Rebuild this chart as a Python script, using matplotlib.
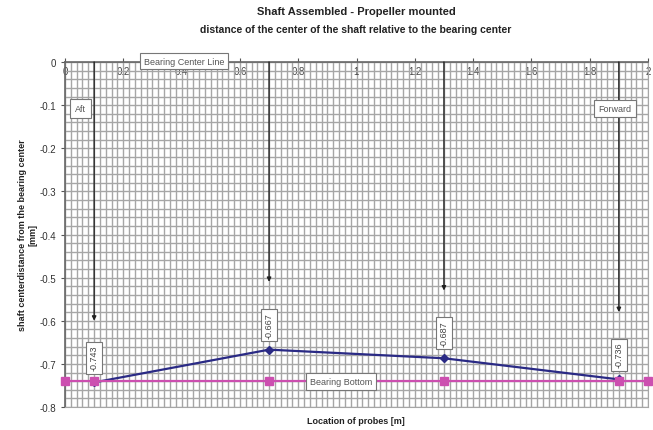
import matplotlib
matplotlib.use("Agg")
import matplotlib.pyplot as plt
import numpy as np

# Data
probe_x = [0.1, 0.7, 1.3, 1.9]
shaft_y = [-0.743, -0.667, -0.687, -0.736]
shaft_labels = ["-0.743", "-0.667", "-0.687", "-0.736"]
bottom_x = [0.0, 0.1, 0.7, 1.3, 1.9, 2.0]
bottom_y = [-0.74, -0.74, -0.74, -0.74, -0.74, -0.74]
arrow_end_y = [-0.6, -0.51, -0.53, -0.58]
x_ticks = [0, 0.2, 0.4, 0.6, 0.8, 1.0, 1.2, 1.4, 1.6, 1.8, 2.0]
x_tick_labels = ["0", "0.2", "0.4", "0.6", "0.8", "1", "1.2", "1.4", "1.6", "1.8", "2"]
y_ticks = [0, -0.1, -0.2, -0.3, -0.4, -0.5, -0.6, -0.7, -0.8]
y_tick_labels = ["0", "-0.1", "-0.2", "-0.3", "-0.4", "-0.5", "-0.6", "-0.7", "-0.8"]

plt.rcParams['font.family'] = ['Liberation Sans', 'DejaVu Sans']

fig = plt.figure(figsize=(6.53, 4.31), dpi=100)
ax = fig.add_axes([65/653, 1-408/431, (648-65)/653, (408-63)/431])

ax.set_xlim(0, 2)
ax.set_ylim(-0.8, 0)

# grid
ax.set_xticks(np.arange(0, 2.0001, 0.02), minor=True)
ax.set_yticks(np.arange(-0.8, 0.0001, 0.02), minor=True)
ax.grid(which='minor', color='#a6a6a6', linewidth=1.0)
ax.grid(which='major', color='#a6a6a6', linewidth=1.0)
ax.tick_params(which='minor', length=0)

ax.set_xticks(x_ticks)
ax.set_xticklabels(x_tick_labels)
ax.set_yticks(y_ticks)
ax.set_yticklabels(y_tick_labels)
ax.xaxis.set_ticks_position('top')
ax.tick_params(axis='x', which='major', top=True, labeltop=True, bottom=False,
               labelbottom=False, direction='out', length=3, pad=-13,
               labelsize=7, labelcolor='#444444', color='#555555')
ax.tick_params(axis='y', which='major', direction='out', length=3, labelsize=7,
               labelcolor='#333333', color='#555555')

for s in ['left', 'top']:
    ax.spines[s].set_color('#666666')
    ax.spines[s].set_linewidth(1.2)
for s in ['right', 'bottom']:
    ax.spines[s].set_color('#a6a6a6')

# arrows
for x, ye in zip(probe_x, arrow_end_y):
    ax.annotate('', xy=(x, ye), xytext=(x, 0),
                arrowprops=dict(arrowstyle='-|>', color='#222222', lw=1.0,
                                mutation_scale=6, shrinkA=0, shrinkB=0))

# lines
ax.plot(probe_x, shaft_y, color='#2a2a85', lw=1.6, marker='D', markersize=4.5,
        zorder=4, clip_on=False)
ax.plot(bottom_x, bottom_y, color='#cc4fb0', lw=1.6, marker='s', markersize=6,
        zorder=5, clip_on=False)

box = dict(boxstyle='square,pad=0.35', facecolor='white', edgecolor='#777777', lw=0.8)

# data labels
for x, y, lab in zip(probe_x, shaft_y, shaft_labels):
    ax.annotate(lab, xy=(x, y), xytext=(0, 12), textcoords='offset pixels',
                rotation=90, ha='center', va='bottom', fontsize=6.5,
                color='#444444', bbox=box, zorder=6)

# text boxes
ax.text(0.27, 0.002, 'Bearing Center Line', fontsize=6.5, color='#555555',
        ha='left', va='center', bbox=dict(boxstyle='square,pad=0.4', facecolor='white',
        edgecolor='#777777', lw=0.8), clip_on=False, zorder=7)
ax.text(0.035, -0.107, 'Aft', fontsize=6.5, color='#555555', ha='left', va='center',
        bbox=dict(boxstyle='square,pad=0.55', facecolor='white', edgecolor='#777777', lw=0.8),
        zorder=7)
ax.text(1.83, -0.107, 'Forward', fontsize=6.5, color='#555555', ha='left', va='center',
        bbox=dict(boxstyle='square,pad=0.45', facecolor='white', edgecolor='#777777', lw=0.8),
        zorder=7)
ax.text(0.84, -0.74, 'Bearing Bottom', fontsize=6.5, color='#555555', ha='left', va='center',
        bbox=dict(boxstyle='square,pad=0.45', facecolor='white', edgecolor='#777777', lw=0.8),
        zorder=7)

# titles and labels
fig.text(356/653, 1-12/431, 'Shaft Assembled - Propeller mounted', ha='center', va='center',
         fontsize=8, fontweight='bold', color='#222222')
fig.text(356/653, 1-30/431, 'distance of the center of the shaft relative to the bearing center',
         ha='center', va='center', fontsize=7.5, fontweight='bold', color='#222222')
fig.text(356/653, 1-422/431, 'Location of probes [m]', ha='center', va='center',
         fontsize=6.5, fontweight='bold', color='#222222')
fig.text(28/653, 1-235/431, 'shaft centerdistance from the bearing center\n[mm]', ha='center',
         va='center', rotation=90, fontsize=6.5, fontweight='bold', color='#222222',
         multialignment='center')

fig.savefig('out.png', dpi=100)
